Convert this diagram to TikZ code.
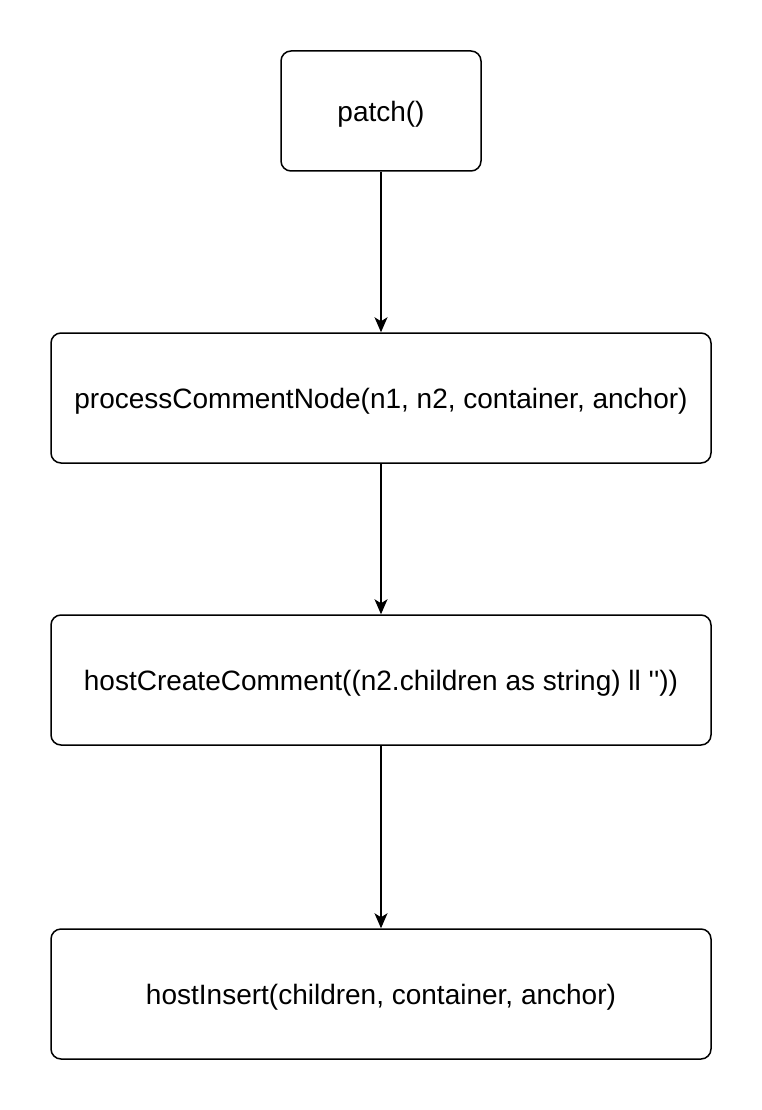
\documentclass[tikz,border=0pt]{standalone}
\usepackage{fontspec}
\setmainfont{Liberation Sans}[Ligatures=TeXOff]
\usetikzlibrary{arrows.meta}
\begin{document}
\begin{tikzpicture}[x=1pt,y=-1pt,
  box/.style={draw=black,line width=1.5pt,rounded corners=10pt,fill=white,inner sep=0pt,text depth=0pt,font=\fontsize{28}{32}\selectfont},
  conn/.style={line width=1.5pt,-{Stealth[width=13pt,length=15pt,inset=4pt]}}]
\fill[white] (0,0) rectangle (762,1110);
\useasboundingbox (0,0) rectangle (762,1110);
\node[box,minimum width=200pt,minimum height=120pt] (a) at (381,111) {patch()};
\node[box,minimum width=660pt,minimum height=130pt] (b) at (381,398) {processCommentNode(n1, n2, container, anchor)};
\node[box,minimum width=660pt,minimum height=130pt] (c) at (381,680) {hostCreateComment((n2.children as string) ll ''))};
\node[box,minimum width=660pt,minimum height=130pt] (d) at (381,994) {hostInsert(children, container, anchor)};
\draw[conn] (a) -- (b);
\draw[conn] (b) -- (c);
\draw[conn] (c) -- (d);
\end{tikzpicture}
\end{document}
